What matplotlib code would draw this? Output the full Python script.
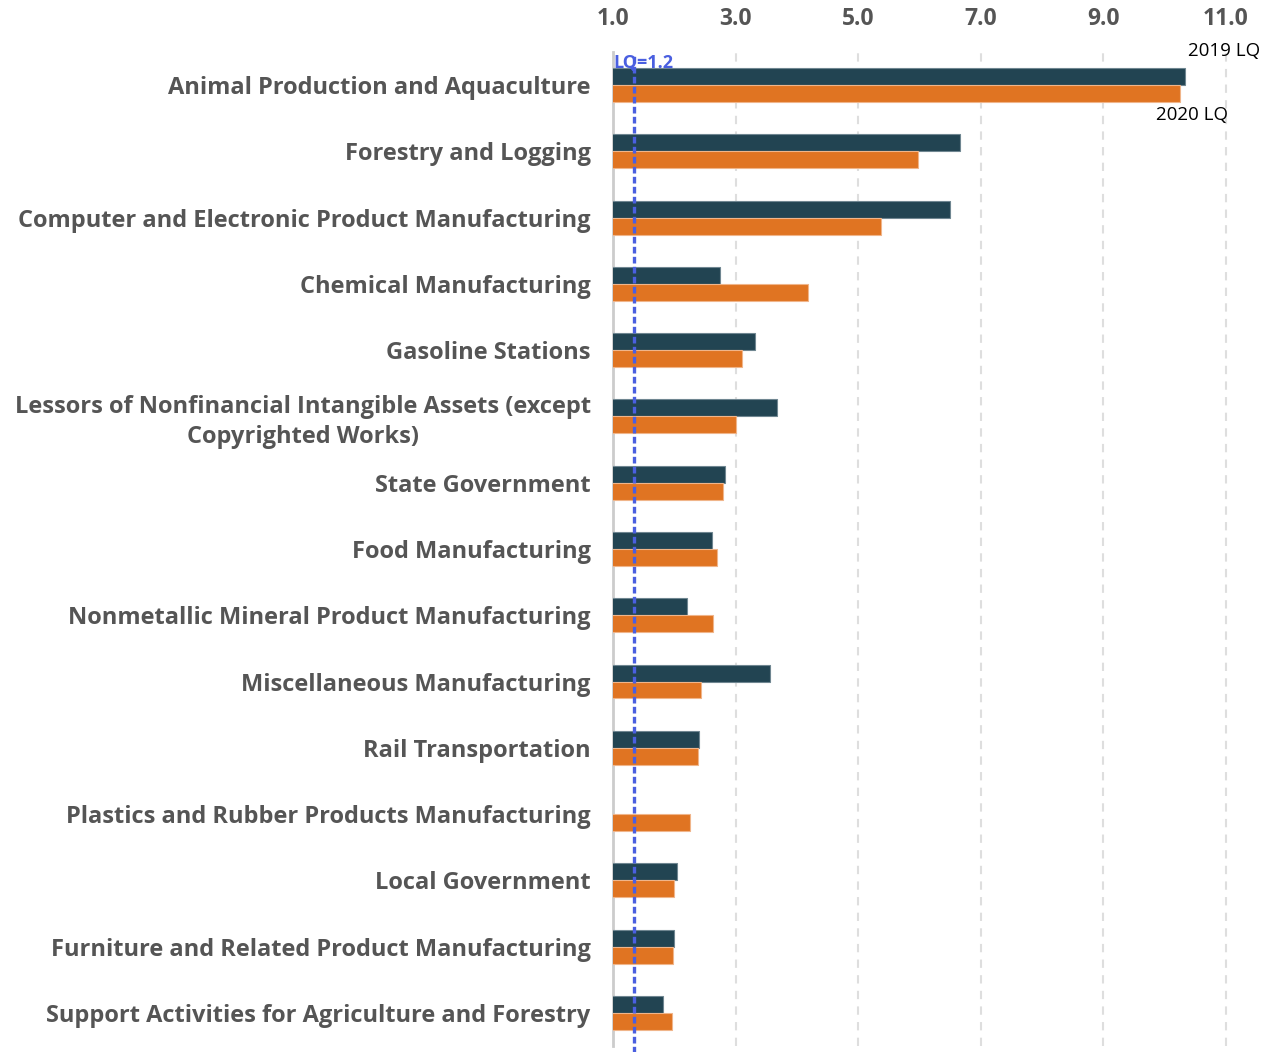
import numpy as np
import matplotlib
matplotlib.use('Agg')
import matplotlib.pyplot as plt


categories = [
    'Animal Production and Aquaculture',
    'Forestry and Logging',
    'Computer and Electronic Product Manufacturing',
    'Chemical Manufacturing',
    'Gasoline Stations',
    'Lessors of Nonfinancial Intangible Assets (except\nCopyrighted Works)',
    'State Government',
    'Food Manufacturing',
    'Nonmetallic Mineral Product Manufacturing',
    'Miscellaneous Manufacturing',
    'Rail Transportation',
    'Plastics and Rubber Products Manufacturing',
    'Local Government',
    'Furniture and Related Product Manufacturing',
    'Support Activities for Agriculture and Forestry',
]
lq_2019 = [10.33, 6.66, 6.50, 2.75, 3.32, 3.68, 2.83, 2.61, 2.21, 3.56, 2.40, np.nan, 2.04, 1.99, 1.82]
lq_2020 = [10.25, 5.98, 5.37, 4.18, 3.10, 3.00, 2.79, 2.70, 2.63, 2.44, 2.38, 2.26, 1.99, 1.98, 1.96]
x_ticks = [1.0, 3.0, 5.0, 7.0, 9.0, 11.0]
lq_ref = 1.34  # drawn position of the "LQ=1.2" reference line

NAVY = '#224452'
ORANGE = '#E07422'
BLUE = '#4A5FE0'
GREY = '#555555'

plt.rcParams['font.family'] = ['Open Sans', 'DejaVu Sans']


def main():
    fig = plt.figure(figsize=(12.73, 10.52), dpi=100)
    ax = fig.add_axes([0.4815, 0.0057, 0.5185, 0.9449])

    y = np.arange(len(categories))
    h = 0.256
    ax.barh(y - h / 2, lq_2019, height=h, color=NAVY, edgecolor='#6f8691', linewidth=0.8, zorder=3)
    ax.barh(y + h / 2, lq_2020, height=h, color=ORANGE, edgecolor='#f0b58a', linewidth=0.8, zorder=3)

    ax.set_xlim(1.0, 11.77)
    ax.set_ylim(len(categories) - 0.5, -0.5)

    ax.xaxis.tick_top()
    ax.set_xticks(x_ticks)
    ax.set_xticklabels([f'{t:.1f}' for t in x_ticks])
    ax.tick_params(axis='x', length=0, pad=15, labelsize=16.5, labelcolor=GREY)
    for lbl in ax.get_xticklabels():
        lbl.set_fontweight('bold')

    ax.set_yticks(y)
    ax.set_yticklabels(categories, ha='right', multialignment='center', linespacing=1.3)
    ax.tick_params(axis='y', length=0, pad=16, labelsize=17.0, labelcolor=GREY)
    for lbl in ax.get_yticklabels():
        lbl.set_fontweight('bold')

    ax.grid(axis='x', color='#dedede', linewidth=1.5, linestyle=(0, (4, 3.5)), zorder=0)
    ax.grid(axis='y', visible=False)
    for s in ['top', 'right', 'bottom']:
        ax.spines[s].set_visible(False)
    ax.spines['left'].set_color('#cccccc')
    ax.spines['left'].set_linewidth(2)

    ax.axvline(lq_ref, ymin=-0.01, ymax=0.997, color=BLUE, linewidth=2.4,
               dashes=(2.0, 1.0), zorder=4, clip_on=False)
    ax.annotate('LQ=1.2', xy=(1.0, -h), xytext=(0, -3), textcoords='offset points',
                ha='left', va='bottom', color=BLUE, fontsize=13, fontweight='bold')

    ax.annotate('2019 LQ', xy=(lq_2019[0], -h), xytext=(2, 6), textcoords='offset points',
                ha='left', va='bottom', fontsize=13.5, color='black')
    ax.annotate('2020 LQ', xy=(lq_2020[0], h), xytext=(9, -3), textcoords='offset points',
                ha='center', va='top', fontsize=13.5, color='black')

    plt.savefig('out.png', dpi=100)


if __name__ == '__main__':
    main()
